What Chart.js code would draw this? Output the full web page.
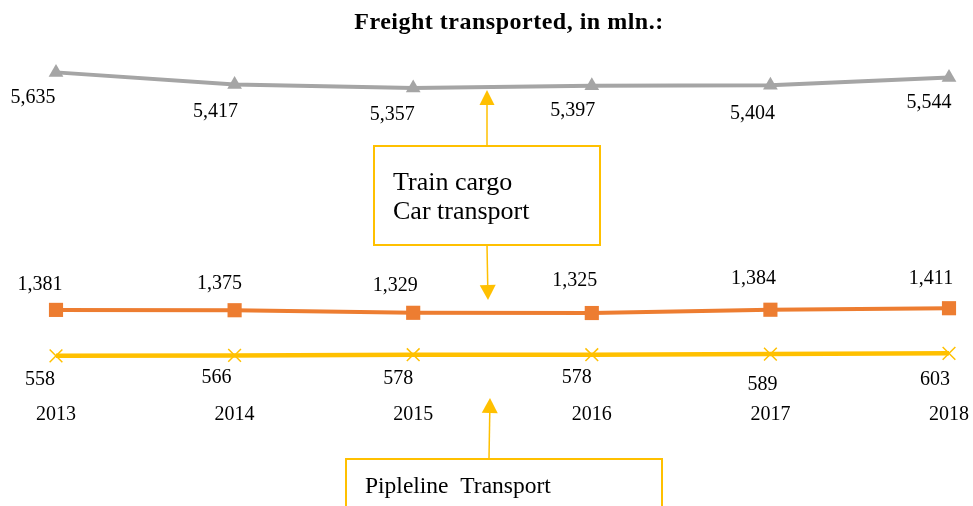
<!DOCTYPE html>
<html>
<head>
<meta charset="utf-8">
<script src="https://cdn.jsdelivr.net/npm/chart.js@4"></script>
<style>
  html, body { margin: 0; padding: 0; background: #fff; }
  #wrap { width: 973px; height: 506px; }
</style>
</head>
<body>
<div id="wrap"><canvas id="c" width="973" height="506"></canvas></div>
<script>
const years = ['2013', '2014', '2015', '2016', '2017', '2018'];
const trainCargo = [5635, 5417, 5357, 5397, 5404, 5544];
const carTransport = [1381, 1375, 1329, 1325, 1384, 1411];
const pipelineTransport = [558, 566, 578, 578, 589, 603];
const titleText = 'Freight transported, in mln.:';
const box1Lines = ['Train cargo', 'Car transport'];
const box2Lines = ['Pipleline  Transport'];

const SERIF = '"Liberation Serif", "Times New Roman", serif';
const ANN = '#FFC000';

function fmt(v) { return v.toLocaleString('en-US'); }

// label placement (style only): [dx, dy] per point, per series
const labelOffsets = [
  [[-23, 25], [-19, 27], [-21, 27], [-19, 25], [-18, 28], [-20, 25]],
  [[-16, -25], [-15, -26], [-18, -27], [-17, -32], [-17, -31], [-18, -29]],
  [[-16, 24], [-18, 22], [-15, 24], [-15, 23], [-8, 31], [-14, 26]]
];

const labelsPlugin = {
  id: 'pointLabels',
  afterDatasetsDraw(chart) {
    const ctx = chart.ctx;
    ctx.save();
    ctx.font = '20px ' + SERIF;
    ctx.fillStyle = '#000';
    ctx.textAlign = 'center';
    ctx.textBaseline = 'middle';
    chart.data.datasets.forEach((ds, i) => {
      const meta = chart.getDatasetMeta(i);
      meta.data.forEach((pt, j) => {
        const o = labelOffsets[i][j];
        ctx.fillText(fmt(ds.data[j]), pt.x + o[0], pt.y + o[1]);
      });
    });
    ctx.restore();
  }
};

function arrow(ctx, x1, y1, x2, y2, head, w) {
  const ang = Math.atan2(y2 - y1, x2 - x1);
  const bx = x2 - Math.cos(ang) * head;
  const by = y2 - Math.sin(ang) * head;
  ctx.beginPath();
  ctx.moveTo(x1, y1);
  ctx.lineTo(bx, by);
  ctx.stroke();
  ctx.beginPath();
  ctx.moveTo(x2, y2);
  ctx.lineTo(bx + Math.sin(ang) * w / 2, by - Math.cos(ang) * w / 2);
  ctx.lineTo(bx - Math.sin(ang) * w / 2, by + Math.cos(ang) * w / 2);
  ctx.closePath();
  ctx.fill();
}

const annotPlugin = {
  id: 'annot',
  afterDraw(chart) {
    const ctx = chart.ctx;
    ctx.save();
    ctx.font = 'bold 24px ' + SERIF;
    ctx.fillStyle = '#000';
    ctx.textAlign = 'center';
    ctx.textBaseline = 'middle';
    try { ctx.letterSpacing = '0.5px'; } catch (e) {}
    ctx.fillText(titleText, 509, 23);
    try { ctx.letterSpacing = '0px'; } catch (e) {}

    ctx.strokeStyle = ANN;
    ctx.fillStyle = ANN;
    ctx.lineWidth = 2;
    ctx.strokeRect(374, 146, 226, 99);
    ctx.strokeRect(346, 459, 316, 60);

    ctx.lineWidth = 1.5;
    arrow(ctx, 487, 146, 487, 90, 15, 15);
    arrow(ctx, 487, 245, 488, 300, 15, 16);
    arrow(ctx, 489, 459, 490, 398, 15, 16);

    ctx.fillStyle = '#000';
    ctx.textAlign = 'left';
    ctx.font = '26px ' + SERIF;
    ctx.fillText(box1Lines[0], 393, 183);
    ctx.fillText(box1Lines[1], 393, 212);
    ctx.font = '23.5px ' + SERIF;
    ctx.fillText(box2Lines[0], 365, 487);
    ctx.restore();
  }
};

new Chart(document.getElementById('c'), {
  type: 'line',
  data: {
    labels: years,
    datasets: [
      {
        label: 'Train cargo',
        data: trainCargo,
        borderColor: '#A5A5A5',
        backgroundColor: '#A5A5A5',
        borderWidth: 4,
        pointStyle: 'triangle',
        pointRadius: 8.5,
        pointBorderWidth: 0,
        tension: 0
      },
      {
        label: 'Car transport',
        data: carTransport,
        borderColor: '#ED7D31',
        backgroundColor: '#ED7D31',
        borderWidth: 4,
        pointStyle: 'rect',
        pointRadius: 10,
        pointBorderWidth: 0,
        tension: 0
      },
      {
        label: 'Pipeline transport',
        data: pipelineTransport,
        borderColor: '#FFC000',
        backgroundColor: '#FFC000',
        borderWidth: 4.5,
        pointStyle: 'crossRot',
        pointRadius: 9,
        pointBorderWidth: 1.5,
        pointBorderColor: '#FFC000',
        tension: 0
      }
    ]
  },
  options: {
    responsive: false,
    animation: false,
    events: [],
    layout: { padding: { left: 56, right: 24, top: 52, bottom: 63 } },
    plugins: {
      legend: { display: false },
      title: { display: false },
      tooltip: { enabled: false }
    },
    scales: {
      x: {
        offset: false,
        grid: { display: false, drawTicks: false },
        border: { display: false },
        afterFit(scale) { scale.paddingLeft = 0; scale.paddingRight = 0; },
        ticks: {
          color: '#000',
          font: { family: SERIF, size: 20 },
          padding: 16,
          maxRotation: 0,
          autoSkip: false
        }
      },
      y: {
        display: false,
        min: 0,
        max: 6000
      }
    }
  },
  plugins: [labelsPlugin, annotPlugin]
});
</script>
</body>
</html>
